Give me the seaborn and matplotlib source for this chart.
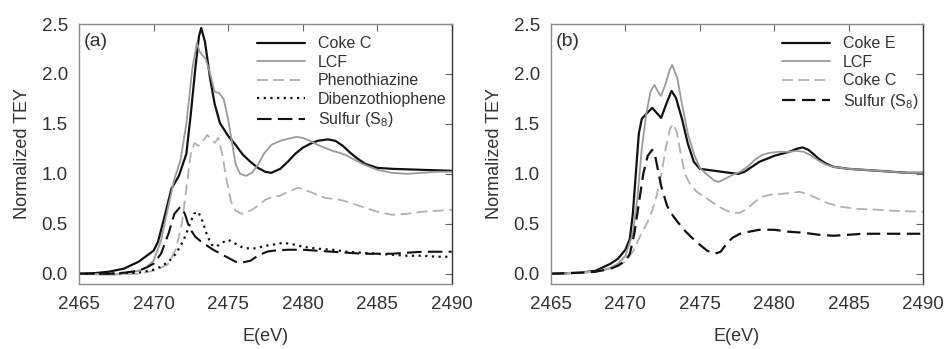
import matplotlib
matplotlib.use("Agg")
import matplotlib.pyplot as plt
import seaborn as sns
import pandas as pd

# ---------------- data: panel (a) ----------------
e_cokeC_a = [2465.0, 2466.0, 2467.0, 2468.0, 2469.0, 2470.0, 2470.3, 2470.7, 2471.2, 2471.7,
             2472.2, 2472.5, 2472.8, 2473.05, 2473.2, 2473.45, 2473.8, 2474.1, 2474.45, 2475.0,
             2475.5, 2476.0, 2476.5, 2477.0, 2477.5, 2477.9, 2478.5, 2479.0, 2479.5, 2480.0,
             2480.5, 2481.0, 2481.7, 2482.2, 2482.7, 2483.2, 2483.7, 2484.2, 2485.0, 2486.0,
             2487.0, 2488.0, 2489.0, 2490.0]
v_cokeC_a = [0.00, 0.005, 0.02, 0.05, 0.12, 0.23, 0.32, 0.55, 0.85, 0.98,
             1.20, 1.60, 2.05, 2.38, 2.46, 2.32, 1.95, 1.70, 1.51, 1.38,
             1.29, 1.19, 1.12, 1.06, 1.02, 1.01, 1.05, 1.12, 1.20, 1.26,
             1.30, 1.33, 1.345, 1.33, 1.28, 1.21, 1.15, 1.10, 1.06, 1.05,
             1.045, 1.04, 1.035, 1.03]

e_lcf_a = [2465.0, 2467.0, 2468.0, 2469.0, 2469.5, 2470.0, 2470.5, 2471.0, 2471.4, 2471.8,
           2472.2, 2472.6, 2472.9, 2473.1, 2473.5, 2473.8, 2474.1, 2474.4, 2474.7, 2475.0,
           2475.3, 2475.5, 2475.8, 2476.2, 2476.6, 2477.0, 2477.4, 2477.9, 2478.5, 2479.0,
           2479.6, 2480.0, 2480.5, 2481.0, 2481.5, 2482.0, 2482.5, 2483.0, 2483.5, 2484.0,
           2484.5, 2485.0, 2486.0, 2487.0, 2488.0, 2489.0, 2490.0]
v_lcf_a = [0.00, -0.01, 0.0, 0.03, 0.06, 0.13, 0.33, 0.68, 0.95, 1.13,
           1.50, 2.05, 2.31, 2.22, 2.15, 2.00, 1.82, 1.81, 1.75, 1.55,
           1.28, 1.10, 1.00, 0.98, 1.01, 1.09, 1.20, 1.29, 1.33, 1.35,
           1.37, 1.36, 1.33, 1.29, 1.26, 1.23, 1.21, 1.18, 1.14, 1.10,
           1.07, 1.04, 1.01, 1.00, 1.01, 1.02, 1.02]

e_pheno = [2465.0, 2467.0, 2469.0, 2470.0, 2470.5, 2471.0, 2471.5, 2471.9, 2472.2, 2472.5,
           2472.75, 2473.0, 2473.2, 2473.6, 2474.1, 2474.35, 2474.6, 2474.9, 2475.2, 2475.5,
           2475.9, 2476.5, 2477.0, 2477.5, 2478.0, 2478.5, 2479.0, 2479.7, 2480.5, 2481.0,
           2481.5, 2482.5, 2483.0, 2484.0, 2485.0, 2486.0, 2487.0, 2488.0, 2489.0, 2490.0]
v_pheno = [0.00, -0.01, 0.0, 0.03, 0.06, 0.10, 0.25, 0.50, 0.85, 1.20,
           1.31, 1.28, 1.30, 1.39, 1.31, 1.36, 1.20, 0.94, 0.72, 0.63,
           0.60, 0.63, 0.68, 0.74, 0.77, 0.78, 0.82, 0.86, 0.82, 0.79,
           0.76, 0.74, 0.72, 0.67, 0.62, 0.59, 0.60, 0.62, 0.63, 0.64]

e_dbt = [2465.0, 2467.0, 2469.0, 2470.0, 2470.5, 2471.0, 2471.5, 2472.0, 2472.4, 2472.7,
         2473.0, 2473.3, 2473.6, 2473.9, 2474.2, 2474.6, 2475.0, 2475.5, 2476.0, 2476.6,
         2477.0, 2477.5, 2478.0, 2478.7, 2479.5, 2480.0, 2481.0, 2482.0, 2483.0, 2484.0,
         2485.0, 2486.0, 2487.0, 2488.0, 2489.0, 2490.0]
v_dbt = [0.00, 0.00, 0.01, 0.04, 0.07, 0.12, 0.20, 0.33, 0.48, 0.60,
         0.62, 0.52, 0.38, 0.29, 0.27, 0.31, 0.34, 0.30, 0.26, 0.25,
         0.26, 0.28, 0.29, 0.31, 0.29, 0.27, 0.25, 0.24, 0.22, 0.21,
         0.20, 0.19, 0.18, 0.18, 0.17, 0.17]

e_s8_a = [2465.0, 2467.0, 2468.0, 2469.0, 2469.5, 2470.0, 2470.5, 2471.0, 2471.4, 2471.8,
          2472.1, 2472.4, 2472.8, 2473.2, 2473.6, 2474.0, 2474.5, 2475.0, 2475.5, 2475.9,
          2476.5, 2477.0, 2477.6, 2478.0, 2479.0, 2480.0, 2481.0, 2482.0, 2483.0, 2484.0,
          2485.0, 2486.0, 2487.0, 2488.0, 2489.0, 2490.0]
v_s8_a = [0.00, 0.00, 0.01, 0.03, 0.06, 0.10, 0.20, 0.40, 0.60, 0.67,
          0.60, 0.46, 0.37, 0.32, 0.28, 0.24, 0.20, 0.16, 0.12, 0.11,
          0.13, 0.18, 0.22, 0.23, 0.24, 0.24, 0.23, 0.22, 0.21, 0.20,
          0.20, 0.20, 0.21, 0.22, 0.22, 0.22]

# ---------------- data: panel (b) ----------------
e_cokeE = [2465.0, 2467.0, 2468.0, 2469.0, 2469.5, 2470.0, 2470.3, 2470.5, 2470.7, 2470.9,
           2471.1, 2471.4, 2471.8, 2472.1, 2472.4, 2472.8, 2473.1, 2473.4, 2473.8, 2474.2,
           2474.6, 2475.0, 2475.5, 2476.0, 2476.5, 2477.0, 2477.6, 2478.0, 2478.5, 2479.0,
           2479.5, 2480.0, 2480.5, 2481.0, 2481.5, 2481.9, 2482.3, 2482.7, 2483.0, 2483.5,
           2484.0, 2485.0, 2486.0, 2487.0, 2488.0, 2489.0, 2490.0]
v_cokeE = [0.00, 0.01, 0.03, 0.10, 0.15, 0.24, 0.35, 0.60, 1.00, 1.40,
           1.55, 1.60, 1.66, 1.61, 1.56, 1.72, 1.83, 1.76, 1.55, 1.30,
           1.12, 1.05, 1.04, 1.03, 1.02, 1.01, 1.00, 1.02, 1.07, 1.12,
           1.15, 1.18, 1.20, 1.22, 1.25, 1.265, 1.24, 1.19, 1.15, 1.10,
           1.07, 1.05, 1.04, 1.03, 1.02, 1.01, 1.01]

e_lcf_b = [2465.0, 2467.0, 2468.0, 2469.0, 2469.5, 2470.0, 2470.5, 2470.8, 2471.1, 2471.4,
           2471.7, 2471.95, 2472.2, 2472.4, 2472.7, 2473.0, 2473.15, 2473.5, 2473.8, 2474.2,
           2474.6, 2475.0, 2475.5, 2476.0, 2476.3, 2476.7, 2477.2, 2477.7, 2478.2, 2478.7,
           2479.2, 2479.7, 2480.3, 2481.0, 2481.5, 2482.0, 2482.5, 2483.0, 2483.5, 2484.0,
           2485.0, 2486.0, 2487.0, 2488.0, 2489.0, 2490.0]
v_lcf_b = [0.00, 0.01, 0.02, 0.06, 0.10, 0.18, 0.40, 0.75, 1.25, 1.60,
           1.83, 1.89, 1.82, 1.78, 1.90, 2.05, 2.09, 1.95, 1.70, 1.40,
           1.20, 1.06, 0.99, 0.93, 0.92, 0.95, 0.99, 1.02, 1.07, 1.14,
           1.19, 1.21, 1.22, 1.22, 1.23, 1.22, 1.18, 1.13, 1.09, 1.07,
           1.05, 1.04, 1.03, 1.02, 1.01, 1.01]

e_cokeC_b = [2465.0, 2467.0, 2468.0, 2469.0, 2470.0, 2470.5, 2471.0, 2471.5, 2471.8, 2472.1,
             2472.4, 2472.7, 2473.0, 2473.2, 2473.45, 2473.7, 2474.0, 2474.4, 2474.8, 2475.3,
             2475.8, 2476.3, 2476.8, 2477.3, 2477.7, 2478.2, 2478.7, 2479.2, 2479.7, 2480.5,
             2481.2, 2481.7, 2482.2, 2482.8, 2483.5, 2484.5, 2485.5, 2487.0, 2488.0, 2490.0]
v_cokeC_b = [0.00, 0.01, 0.02, 0.05, 0.12, 0.22, 0.38, 0.52, 0.63, 0.78,
             0.98, 1.25, 1.45, 1.50, 1.42, 1.22, 1.00, 0.88, 0.82, 0.77,
             0.72, 0.67, 0.63, 0.61, 0.61, 0.65, 0.72, 0.77, 0.79, 0.80,
             0.81, 0.82, 0.80, 0.76, 0.71, 0.67, 0.65, 0.64, 0.63, 0.62]

e_s8_b = [2465.0, 2467.0, 2468.0, 2469.0, 2469.5, 2470.0, 2470.3, 2470.6, 2470.9, 2471.2,
          2471.5, 2471.8, 2472.0, 2472.4, 2472.8, 2473.1, 2473.5, 2474.0, 2474.4, 2475.0,
          2475.5, 2476.0, 2476.4, 2476.8, 2477.2, 2477.7, 2478.3, 2479.0, 2480.0, 2481.0,
          2482.0, 2483.0, 2484.0, 2485.0, 2486.0, 2488.0, 2490.0]
v_s8_b = [0.00, 0.01, 0.02, 0.05, 0.08, 0.13, 0.20, 0.40, 0.70, 1.00,
          1.18, 1.24, 1.18, 0.88, 0.68, 0.60, 0.52, 0.43, 0.37, 0.29,
          0.23, 0.20, 0.22, 0.30, 0.36, 0.40, 0.42, 0.44, 0.44, 0.42,
          0.41, 0.39, 0.38, 0.39, 0.40, 0.40, 0.40]

x_ticks = [2465, 2470, 2475, 2480, 2485, 2490]
y_ticks = [0.0, 0.5, 1.0, 1.5, 2.0, 2.5]
x_label = "E(eV)"
y_label = "Normalized TEY"

# ---------------- styling ----------------
sns.set_style("white")
plt.rcParams["font.family"] = ["Liberation Sans", "DejaVu Sans"]
plt.rcParams["mathtext.fontset"] = "custom"
plt.rcParams["mathtext.rm"] = "Liberation Sans"
plt.rcParams["mathtext.it"] = "Liberation Sans"

BLACK = "#111111"
GRAY = "#9a9a9a"
LGRAY = "#b0b0b0"
TXT = "#333333"

fig = plt.figure(figsize=(9.45, 3.49), dpi=100)
ax_a = fig.add_axes([79 / 945, 1 - 283.7 / 349, (451.7 - 79) / 945, (283.7 - 24) / 349])
ax_b = fig.add_axes([551 / 945, 1 - 283.7 / 349, (923 - 551) / 945, (283.7 - 24) / 349])

panel_a = [
    (e_cokeC_a, v_cokeC_a, "Coke C", BLACK, "-", 1.6),
    (e_lcf_a, v_lcf_a, "LCF", GRAY, "-", 1.3),
    (e_pheno, v_pheno, "Phenothiazine", LGRAY, (0, (6, 3)), 1.3),
    (e_dbt, v_dbt, "Dibenzothiophene", BLACK, (0, (1, 2)), 1.6),
    (e_s8_a, v_s8_a, "Sulfur (S$_8$)", BLACK, (0, (7, 3)), 1.5),
]
panel_b = [
    (e_cokeE, v_cokeE, "Coke E", BLACK, "-", 1.6),
    (e_lcf_b, v_lcf_b, "LCF", GRAY, "-", 1.3),
    (e_cokeC_b, v_cokeC_b, "Coke C", LGRAY, (0, (6, 3)), 1.3),
    (e_s8_b, v_s8_b, "Sulfur (S$_8$)", BLACK, (0, (6, 3)), 1.6),
]

for ax, series, tag in [(ax_a, panel_a, "(a)"), (ax_b, panel_b, "(b)")]:
    for e, v, lab, col, ls, lw in series:
        df = pd.DataFrame({"E": e, "v": v})
        sns.lineplot(data=df, x="E", y="v", ax=ax, color=col, linestyle=ls,
                     linewidth=lw, label=lab, estimator=None)
    ax.set_xlim(2465, 2490)
    ax.set_ylim(-0.1, 2.5)
    ax.set_xticks(x_ticks)
    ax.set_yticks(y_ticks)
    ax.set_yticklabels([f"{t:.1f}" for t in y_ticks])
    ax.tick_params(direction="in", top=True, right=True, length=5, width=0.8,
                   colors="#666666", labelcolor=TXT, labelsize=13.5)
    ax.tick_params(axis="x", pad=9)
    ax.tick_params(axis="y", pad=8)
    ax.set_xlabel(x_label, fontsize=13, color=TXT, labelpad=11)
    ax.set_ylabel(y_label, fontsize=13, color=TXT, labelpad=8)
    for side in ["top", "left", "bottom"]:
        ax.spines[side].set_color("#8a8a8a")
        ax.spines[side].set_linewidth(1.0)
    ax.spines["right"].set_color("#333333")
    ax.spines["right"].set_linewidth(1.0)
    ax.text(0.012, 0.965, tag, transform=ax.transAxes, ha="left", va="top",
            fontsize=14, color=TXT)
    leg = ax.legend(loc="upper right", bbox_to_anchor=(0.995, 0.965), frameon=False,
                    fontsize=11.5, handlelength=3.0, handletextpad=0.8,
                    labelspacing=0.22, borderaxespad=0.1, borderpad=0.1)
    for t in leg.get_texts():
        t.set_color(TXT)

fig.savefig("out.png", dpi=100)
